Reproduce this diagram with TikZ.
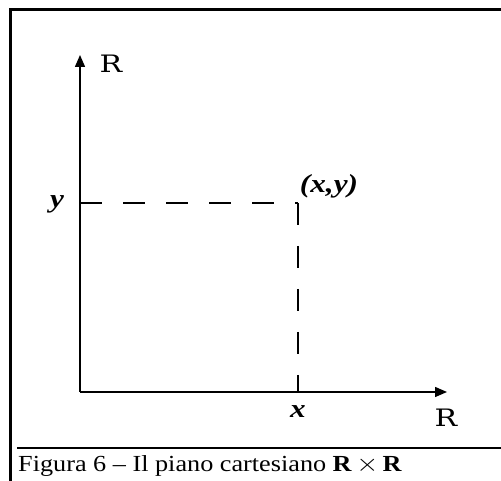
\documentclass[tikz,border=0pt]{standalone}
\usepackage{fontspec}
\setmainfont{Liberation Serif}
\newfontfamily\rfont{DejaVu Serif}
\usetikzlibrary{arrows.meta}
\newcommand{\widetxt}[2]{\scalebox{#1}[1]{#2}}
\begin{document}
\begin{tikzpicture}[x=1pt,y=1pt,
  axis/.style={line width=1.4pt,-{Triangle[length=12pt,width=10pt]}},
  guide/.style={line width=1.5pt,dash pattern=on 22pt off 21pt},
  frame/.style={line width=2.6pt},
  lbl/.style={inner sep=0pt,font=\fontsize{26}{30}\selectfont\bfseries\itshape},
  rl/.style={inner sep=0pt,font=\rfont\fontsize{24}{28}\selectfont}]
\useasboundingbox (0,0) rectangle (501,481);
% frame
\coordinate (tl) at (10.5,471.5);
\coordinate (tr) at (501,471.5);
\coordinate (bl) at (10.5,0);
\draw[frame] (bl) -- (tl) -- (tr);
\coordinate (sl) at (17,33);
\coordinate (sr) at (501,33);
\draw[line width=2.4pt] (sl) -- (sr);
\node[anchor=base west,inner sep=0pt,font=\fontsize{23}{27}\selectfont] (cap) at (18,9) {\widetxt{1.14}{Figura 6 -- Il piano cartesiano \textbf{R}\,$\times$\,\textbf{R}}};
% axes
\coordinate (O) at (80,89);
\coordinate (ytip) at (80,426);
\coordinate (xtip) at (447,89);
\draw[axis] (O) -- (ytip);
\draw[axis] (O) -- (xtip);
\coordinate (P) at (298,278);
\coordinate (Py) at (80,278);
\coordinate (Px) at (298,89);
\draw[guide] (Py) -- (P);
\draw[guide] (P) -- (Px);
\node[lbl] (ly) at (57,277) {\widetxt{1.2}{y}};
\node[lbl] (lx) at (298,69) {\widetxt{1.2}{x}};
\node[lbl] (lp) at (329,295) {\widetxt{1.2}{(x,y)}};
\node[rl] (ry) at (111,417) {\widetxt{1.25}{R}};
\node[rl] (rx) at (446,63) {\widetxt{1.25}{R}};
\end{tikzpicture}
\end{document}
